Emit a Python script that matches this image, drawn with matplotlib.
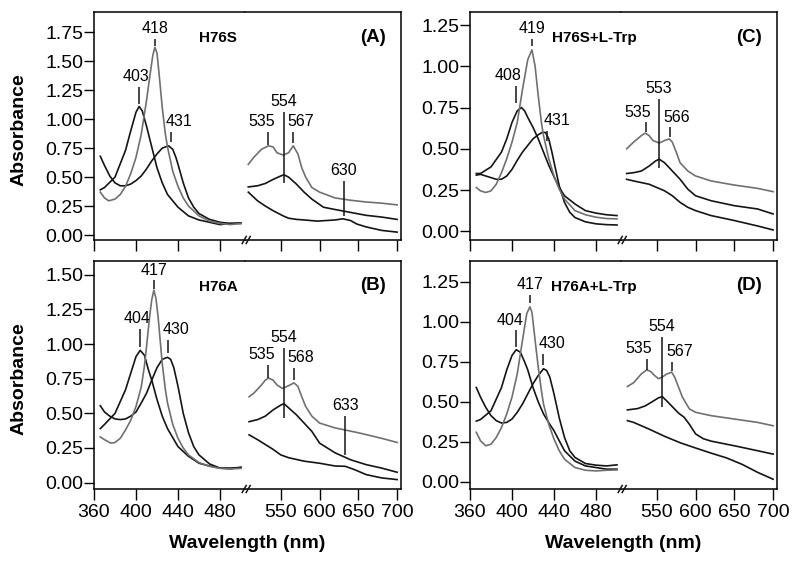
import matplotlib
matplotlib.use("Agg")
import matplotlib.pyplot as plt
from matplotlib.lines import Line2D

plt.rcParams["font.family"] = ["Liberation Sans", "DejaVu Sans"]

# ---------------- data (wavelength nm, absorbance) ----------------
# panel A: H76S
A_SORET_403 = [(366, 0.39), (370, 0.41), (380, 0.50), (390, 0.73), (395, 0.90), (400, 1.06),
               (403, 1.11), (406, 1.07), (410, 0.94), (415, 0.76), (420, 0.58), (425, 0.45),
               (430, 0.35), (440, 0.24), (450, 0.165), (460, 0.13), (470, 0.11), (480, 0.09),
               (490, 0.10), (500, 0.10)]
A_SORET_418 = [(366, 0.37), (370, 0.32), (374, 0.295), (380, 0.31), (385, 0.35), (390, 0.42),
               (395, 0.53), (400, 0.67), (405, 0.87), (410, 1.16), (413, 1.36), (416, 1.55),
               (418, 1.62), (420, 1.57), (422, 1.39), (425, 1.10), (428, 0.87), (430, 0.76),
               (435, 0.55), (440, 0.42), (445, 0.32), (450, 0.25), (460, 0.165), (470, 0.12),
               (480, 0.10), (490, 0.09), (500, 0.10)]
A_SORET_431 = [(366, 0.68), (370, 0.60), (375, 0.51), (380, 0.45), (385, 0.425), (390, 0.425),
               (395, 0.44), (400, 0.47), (405, 0.51), (410, 0.57), (415, 0.64), (420, 0.70),
               (425, 0.75), (431, 0.77), (435, 0.74), (438, 0.67), (440, 0.61), (445, 0.45),
               (450, 0.32), (455, 0.24), (460, 0.185), (470, 0.135), (480, 0.11), (490, 0.10),
               (500, 0.105)]
A_VIS_GRAY = [(508, 0.61), (515, 0.67), (525, 0.74), (534, 0.77), (540, 0.76), (545, 0.71),
              (553, 0.69), (560, 0.71), (566, 0.77), (572, 0.70), (577, 0.58), (582, 0.50),
              (590, 0.41), (600, 0.37), (620, 0.32), (640, 0.30), (660, 0.285), (680, 0.275),
              (700, 0.26)]
A_VIS_MID = [(508, 0.415), (520, 0.425), (530, 0.445), (540, 0.48), (550, 0.51), (554, 0.52),
             (560, 0.50), (570, 0.44), (580, 0.37), (590, 0.31), (605, 0.24), (620, 0.22),
             (640, 0.195), (660, 0.17), (680, 0.155), (700, 0.135)]
A_VIS_LOW = [(508, 0.37), (520, 0.295), (530, 0.25), (540, 0.21), (553, 0.165), (560, 0.145),
             (570, 0.135), (580, 0.13), (597, 0.12), (620, 0.13), (630, 0.14), (640, 0.125),
             (648, 0.095), (660, 0.07), (680, 0.04), (700, 0.025)]

# panel B: H76A
B_SORET_404 = [(366, 0.39), (370, 0.42), (380, 0.50), (390, 0.67), (395, 0.79), (400, 0.91),
               (404, 0.955), (408, 0.92), (412, 0.81), (415, 0.74), (420, 0.60), (425, 0.48),
               (430, 0.39), (440, 0.26), (450, 0.19), (460, 0.14), (470, 0.12), (480, 0.105),
               (490, 0.105), (500, 0.11)]
B_SORET_417 = [(366, 0.33), (370, 0.31), (376, 0.285), (380, 0.29), (385, 0.32), (390, 0.38),
               (395, 0.45), (400, 0.55), (405, 0.69), (408, 0.84), (410, 0.98), (413, 1.20),
               (415, 1.32), (417, 1.39), (419, 1.33), (421, 1.20), (423, 1.03), (425, 0.86),
               (428, 0.67), (430, 0.575), (435, 0.42), (440, 0.32), (445, 0.25), (450, 0.20),
               (460, 0.145), (470, 0.118), (480, 0.103), (490, 0.099), (500, 0.103)]
B_SORET_430 = [(366, 0.555), (370, 0.51), (375, 0.48), (380, 0.46), (385, 0.455), (390, 0.46),
               (395, 0.48), (400, 0.51), (405, 0.575), (410, 0.645), (415, 0.74), (420, 0.83),
               (425, 0.89), (430, 0.905), (433, 0.89), (436, 0.83), (440, 0.695), (445, 0.50),
               (450, 0.36), (455, 0.26), (460, 0.20), (470, 0.135), (480, 0.105), (490, 0.10),
               (500, 0.11)]
B_VIS_GRAY = [(509, 0.62), (515, 0.645), (525, 0.705), (530, 0.74), (534, 0.755), (540, 0.74),
              (545, 0.705), (552, 0.68), (560, 0.70), (567, 0.72), (572, 0.695), (577, 0.62),
              (582, 0.55), (590, 0.48), (600, 0.43), (620, 0.395), (650, 0.36), (680, 0.32),
              (700, 0.29)]
B_VIS_MID = [(509, 0.44), (520, 0.455), (530, 0.48), (540, 0.525), (550, 0.56), (554, 0.57),
             (560, 0.54), (570, 0.49), (580, 0.43), (590, 0.37), (600, 0.285), (620, 0.215),
             (640, 0.165), (660, 0.13), (680, 0.105), (700, 0.075)]
B_VIS_LOW = [(509, 0.345), (520, 0.31), (530, 0.275), (540, 0.24), (550, 0.20), (560, 0.18),
             (580, 0.155), (600, 0.14), (620, 0.12), (633, 0.118), (645, 0.094), (660, 0.058),
             (680, 0.034), (700, 0.022)]

# panel C: H76S + L-Trp
C_SORET_408 = [(366, 0.35), (370, 0.35), (380, 0.39), (390, 0.48), (395, 0.56), (400, 0.66),
               (405, 0.73), (409, 0.75), (412, 0.73), (415, 0.69), (420, 0.63), (425, 0.56),
               (430, 0.48), (435, 0.40), (440, 0.33), (445, 0.265), (450, 0.215), (460, 0.165),
               (470, 0.125), (480, 0.11), (490, 0.10), (500, 0.095)]
C_SORET_419 = [(366, 0.265), (370, 0.245), (375, 0.235), (380, 0.245), (385, 0.285), (390, 0.355),
               (395, 0.44), (400, 0.54), (405, 0.66), (410, 0.86), (415, 1.04), (419, 1.10),
               (422, 1.00), (425, 0.82), (428, 0.66), (430, 0.58), (435, 0.44), (440, 0.335),
               (445, 0.255), (450, 0.195), (460, 0.125), (470, 0.10), (480, 0.085), (490, 0.077),
               (500, 0.075)]
C_SORET_431 = [(366, 0.34), (370, 0.345), (380, 0.325), (385, 0.315), (390, 0.315), (395, 0.335),
               (400, 0.375), (405, 0.43), (410, 0.48), (415, 0.52), (420, 0.56), (425, 0.585),
               (429, 0.60), (432, 0.598), (435, 0.56), (438, 0.48), (440, 0.42), (445, 0.275),
               (450, 0.175), (455, 0.115), (460, 0.083), (470, 0.057), (480, 0.045), (490, 0.04),
               (500, 0.038)]
C_VIS_GRAY = [(511, 0.50), (520, 0.54), (530, 0.58), (535, 0.595), (540, 0.58), (545, 0.55),
              (553, 0.535), (560, 0.55), (566, 0.56), (570, 0.54), (575, 0.48), (580, 0.415),
              (590, 0.365), (600, 0.335), (620, 0.305), (650, 0.28), (680, 0.26), (700, 0.24)]
C_VIS_MID = [(511, 0.35), (520, 0.355), (530, 0.365), (540, 0.395), (548, 0.425), (553, 0.437),
             (560, 0.415), (570, 0.365), (580, 0.315), (590, 0.255), (600, 0.215), (620, 0.185),
             (650, 0.155), (680, 0.135), (700, 0.105)]
C_VIS_LOW = [(511, 0.315), (520, 0.305), (540, 0.285), (550, 0.265), (560, 0.245), (570, 0.215),
             (580, 0.175), (590, 0.145), (600, 0.125), (620, 0.095), (650, 0.065), (680, 0.032),
             (700, 0.008)]

# panel D: H76A + L-Trp
D_SORET_404 = [(366, 0.38), (370, 0.39), (380, 0.445), (390, 0.59), (395, 0.70), (400, 0.79),
               (404, 0.826), (408, 0.81), (412, 0.75), (415, 0.70), (420, 0.59), (425, 0.50),
               (430, 0.425), (435, 0.37), (440, 0.32), (445, 0.257), (450, 0.195), (460, 0.13),
               (470, 0.10), (480, 0.09), (490, 0.08), (500, 0.08)]
D_SORET_417 = [(366, 0.31), (370, 0.257), (375, 0.226), (380, 0.236), (385, 0.278), (390, 0.34),
               (395, 0.425), (400, 0.53), (405, 0.675), (410, 0.885), (414, 1.05), (417, 1.094),
               (419, 1.06), (422, 0.885), (425, 0.717), (428, 0.57), (430, 0.487), (435, 0.36),
               (440, 0.268), (445, 0.195), (450, 0.142), (460, 0.09), (470, 0.073), (480, 0.069),
               (490, 0.073), (500, 0.075)]
D_SORET_430 = [(366, 0.59), (370, 0.53), (375, 0.466), (380, 0.414), (385, 0.383), (390, 0.368),
               (395, 0.372), (400, 0.393), (405, 0.435), (410, 0.487), (415, 0.55), (420, 0.613),
               (425, 0.665), (430, 0.707), (433, 0.696), (436, 0.655), (440, 0.55), (445, 0.40),
               (450, 0.278), (455, 0.195), (460, 0.153), (470, 0.115), (480, 0.105), (490, 0.10),
               (500, 0.107)]
D_VIS_GRAY = [(512, 0.596), (520, 0.62), (530, 0.675), (537, 0.70), (542, 0.69), (547, 0.665),
              (552, 0.645), (557, 0.655), (562, 0.672), (569, 0.686), (573, 0.655), (578, 0.592),
              (583, 0.53), (592, 0.456), (600, 0.435), (620, 0.414), (650, 0.393), (680, 0.372),
              (700, 0.351)]
D_VIS_MID = [(512, 0.45), (525, 0.458), (535, 0.475), (545, 0.504), (552, 0.525), (557, 0.533),
             (562, 0.51), (570, 0.47), (578, 0.43), (585, 0.405), (592, 0.36), (600, 0.30),
             (610, 0.27), (620, 0.255), (650, 0.226), (680, 0.195), (700, 0.174)]
D_VIS_LOW = [(512, 0.383), (520, 0.372), (540, 0.33), (560, 0.285), (580, 0.245), (600, 0.212),
             (620, 0.18), (640, 0.15), (650, 0.13), (660, 0.11), (680, 0.06), (700, 0.017)]

# peak marks: (label, wavelength, line bottom, line top)
A_PEAKS_SORET = [("403", 403, 1.13, 1.28), ("418", 418, 1.63, 1.69), ("431", 433, 0.80, 0.89)]
A_PEAKS_VIS = [("535", 534, 0.78, 0.89), ("554", 553.5, 0.45, 1.06), ("567", 566, 0.79, 0.89),
               ("630", 631, 0.16, 0.47)]
B_PEAKS_SORET = [("404", 404, 0.98, 1.11), ("417", 417, 1.40, 1.46), ("430", 430.5, 0.935, 1.03)]
B_PEAKS_VIS = [("535", 534, 0.755, 0.85), ("554", 553.5, 0.465, 0.97), ("568", 567, 0.74, 0.83),
               ("633", 633, 0.20, 0.48)]
C_PEAKS_SORET = [("408", 404, 0.78, 0.88), ("419", 419, 1.125, 1.165), ("431", 433, 0.55, 0.61)]
C_PEAKS_VIS = [("535", 536, 0.60, 0.66), ("553", 552.5, 0.385, 0.80), ("566", 567, 0.57, 0.63)]
D_PEAKS_SORET = [("404", 404, 0.843, 0.947), ("417", 417, 1.12, 1.167), ("430", 429.5, 0.728, 0.80)]
D_PEAKS_VIS = [("535", 537, 0.70, 0.77), ("554", 556, 0.466, 0.905), ("567", 569, 0.69, 0.75)]

# horizontal shift of each peak label relative to its line, in pixels
LABEL_DX = {"A": [-3, 0, 8, -7, 0, 7, 0], "B": [-3, 0, 8, -7, 0, 7, 0],
            "C": [-8, 0, 10, -8, 0, 7], "D": [-6, 0, 9, -8, 0, 8]}

SORET_TICKS = [360, 400, 440, 480]
VIS_TICKS = [550, 600, 650, 700]

BLACK = "#151515"
GRAY = "#707070"

W, H = 800, 564
fig = plt.figure(figsize=(W / 100, H / 100), dpi=100)

# pixel layout
COL_X0 = [94, 470]
ROW_TOP = [12, 261]
ROW_BOT = [240, 489]
SORET_LIM = (360, 504)
VIS_LIM = (504, 705.5)
PX_SORET = 1.05
PX_VIS = 0.775


def px_rect(x0, x1, top, bot):
    return [x0 / W, 1 - bot / H, (x1 - x0) / W, (bot - top) / H]


def style_axis(ax, show_labels):
    ax.tick_params(axis="x", direction="out", length=8, width=1, pad=2.5,
                   labelsize=14, labelbottom=show_labels, top=False)
    ax.tick_params(axis="y", direction="out", length=7, width=1, pad=0.5, labelsize=14)
    for s in ax.spines.values():
        s.set_linewidth(1.1)


def draw_curves(ax, curves):
    for pts, color in curves:
        xs = [p[0] for p in pts]
        ys = [p[1] for p in pts]
        ax.plot(xs, ys, color=color, lw=1.2)


def draw_peaks(ax, peaks, dxs):
    for (lab, x, y0, y1), dx in zip(peaks, dxs):
        ax.vlines(x, y0, y1, color=BLACK, lw=1.1)
        ax.annotate(lab, (x, y1), xytext=(dx * 0.72, 2), textcoords="offset points",
                    ha="center", va="bottom", fontsize=11.5)


panels = [
    ("A", 0, 0, "H76S", [(A_SORET_431, BLACK), (A_SORET_403, BLACK), (A_SORET_418, GRAY)],
     [(A_VIS_GRAY, GRAY), (A_VIS_MID, BLACK), (A_VIS_LOW, BLACK)],
     A_PEAKS_SORET, A_PEAKS_VIS, (-0.043, 1.925), [0, 0.25, 0.5, 0.75, 1.0, 1.25, 1.5, 1.75]),
    ("B", 0, 1, "H76A", [(B_SORET_430, BLACK), (B_SORET_404, BLACK), (B_SORET_417, GRAY)],
     [(B_VIS_GRAY, GRAY), (B_VIS_MID, BLACK), (B_VIS_LOW, BLACK)],
     B_PEAKS_SORET, B_PEAKS_VIS, (-0.046, 1.60), [0, 0.25, 0.5, 0.75, 1.0, 1.25, 1.5]),
    ("C", 1, 0, "H76S+L-Trp", [(C_SORET_431, BLACK), (C_SORET_408, BLACK), (C_SORET_419, GRAY)],
     [(C_VIS_GRAY, GRAY), (C_VIS_MID, BLACK), (C_VIS_LOW, BLACK)],
     C_PEAKS_SORET, C_PEAKS_VIS, (-0.053, 1.329), [0, 0.25, 0.5, 0.75, 1.0, 1.25]),
    ("D", 1, 1, "H76A+L-Trp", [(D_SORET_430, BLACK), (D_SORET_404, BLACK), (D_SORET_417, GRAY)],
     [(D_VIS_GRAY, GRAY), (D_VIS_MID, BLACK), (D_VIS_LOW, BLACK)],
     D_PEAKS_SORET, D_PEAKS_VIS, (-0.044, 1.38), [0, 0.25, 0.5, 0.75, 1.0, 1.25]),
]

for tag, col, row, name, soret, vis, pk_s, pk_v, ylim, yticks in panels:
    x0 = COL_X0[col]
    xb = x0 + (SORET_LIM[1] - SORET_LIM[0]) * PX_SORET
    x1 = xb + (VIS_LIM[1] - VIS_LIM[0]) * PX_VIS
    top, bot = ROW_TOP[row], ROW_BOT[row]
    bottom_row = row == 1

    axl = fig.add_axes(px_rect(x0, xb, top, bot))
    axr = fig.add_axes(px_rect(xb, x1, top, bot), sharey=axl)
    axl.set_xlim(*SORET_LIM)
    axr.set_xlim(*VIS_LIM)
    axl.set_ylim(*ylim)
    axl.set_xticks(SORET_TICKS)
    axr.set_xticks(VIS_TICKS)
    axl.set_yticks(yticks)
    axl.set_yticklabels([f"{v:.2f}" for v in yticks])
    style_axis(axl, bottom_row)
    style_axis(axr, bottom_row)
    axl.spines["right"].set_visible(False)
    axr.spines["left"].set_visible(False)
    axr.tick_params(axis="y", left=False, labelleft=False)

    draw_curves(axl, soret)
    draw_curves(axr, vis)
    n = len(pk_s)
    draw_peaks(axl, pk_s, LABEL_DX[tag][:n])
    draw_peaks(axr, pk_v, LABEL_DX[tag][n:])

    # axis break marks
    for off in (-3, 1):
        fig.add_artist(Line2D([(xb + off) / W, (xb + off + 4) / W],
                              [1 - (bot + 3.5) / H, 1 - (bot - 3.5) / H],
                              color=BLACK, lw=1.1))

    # panel titles
    fig.text((x0 + 124) / W, 1 - (top + 26) / H, name, ha="center", va="center",
             fontsize=11, fontweight="bold")
    fig.text((x0 + 279) / W, 1 - (top + 25) / H, f"({tag})", ha="center", va="center",
             fontsize=13.5, fontweight="bold")

    if col == 0:
        fig.text(19 / W, 1 - (top + bot + 8) / 2 / H, "Absorbance", rotation=90,
                 ha="center", va="center", fontsize=14, fontweight="bold")
    if bottom_row:
        fig.text((x0 + x1) / 2 / W, 1 - 543 / H, "Wavelength (nm)", ha="center",
                 va="center", fontsize=14, fontweight="bold")

fig.savefig("out.png", dpi=100)
